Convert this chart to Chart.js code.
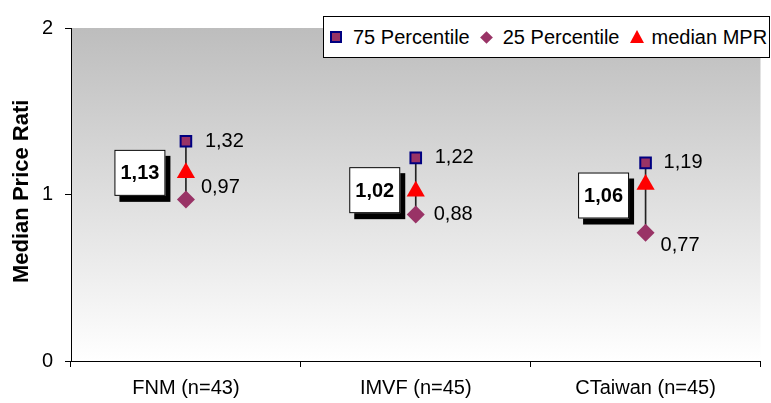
<!DOCTYPE html>
<html>
<head>
<meta charset="utf-8">
<script src="https://cdn.jsdelivr.net/npm/chart.js@4/dist/chart.umd.min.js"></script>
<style>
  body { margin: 0; background: #fff; }
  #wrap { position: relative; width: 771px; height: 403px; }
  #legend {
    position: absolute; left: 323px; top: 16px; width: 447px; height: 42px;
    box-sizing: border-box; border: 1px solid #000; background: #fff;
    display: flex; align-items: center; padding-left: 6px;
    font: 20px "Liberation Sans", Arial, sans-serif; color: #000; white-space: nowrap;
  }
  .mk { display: inline-block; flex: none; margin-right: 11px; }
  .sq { width: 8px; height: 8px; background: #993366; border: 2px solid #000080; }
  .dm { width: 9px; height: 9px; background: #993366; transform: rotate(45deg); margin-left: 2px; margin-right: 12px; }
  .tr { width: 0; height: 0; border-left: 7px solid transparent; border-right: 7px solid transparent; border-bottom: 13px solid #ff0000; margin-bottom: 2px; margin-right: 8px; }
  .txt { flex: none; margin-right: 10px; }
</style>
</head>
<body>
<div id="wrap">
  <canvas id="chart" width="771" height="403"></canvas>
  <div id="legend">
    <span class="mk sq"></span><span class="txt">75 Percentile</span>
    <span class="mk dm"></span><span class="txt">25 Percentile</span>
    <span class="mk tr"></span><span class="txt">median MPR</span>
  </div>
</div>
<script>
// Median price ratio per data source, with the 25/75 percentile range

const categories = ['FNM (n=43)', 'IMVF (n=45)', 'CTaiwan (n=45)'];
const p75 = [1.32, 1.22, 1.19];
const p25 = [0.97, 0.88, 0.77];
const medianMPR = [1.13, 1.02, 1.06];
const yTicks = [0, 1, 2];

// label nudges (pixels), as placed by hand in the original
const p75LabelDx = [19, 19, 18];
const p25LabelDx = [15, 18, 15];
const p25LabelDy = [-12, 0, 13];
const boxDx = [-46, -41, -42];
const boxDy = [0, -1, 11];

const FONT = '"Liberation Sans", Arial, sans-serif';

function fmt(v) {
    return v.toFixed(2).replace('.', ',');
}

// grey-to-white plot background
const backgroundPlugin = {
    id: 'plotBackground',
    beforeDraw(chart) {
        const a = chart.chartArea;
        const ctx = chart.ctx;
        const g = ctx.createLinearGradient(0, a.top, 0, a.bottom);
        g.addColorStop(0, '#bdbdbd');
        g.addColorStop(1, '#ffffff');
        ctx.save();
        ctx.fillStyle = g;
        ctx.fillRect(a.left, a.top, a.right - a.left, a.bottom - a.top);
        ctx.restore();
    }
};

// y title, cut off at the top like the original
const yTitlePlugin = {
    id: 'yTitle',
    afterDraw(chart) {
        const ctx = chart.ctx;
        ctx.save();
        ctx.beginPath();
        ctx.rect(0, 100, 60, 300);
        ctx.clip();
        ctx.translate(22, 283);
        ctx.rotate(-Math.PI / 2);
        ctx.font = 'bold 22px ' + FONT;
        ctx.fillStyle = '#000';
        ctx.textAlign = 'left';
        ctx.textBaseline = 'middle';
        ctx.fillText('Median Price Ratio', 0, 0);
        ctx.restore();
    }
};

// value labels and boxed median labels
const labelPlugin = {
    id: 'valueLabels',
    afterDatasetsDraw(chart) {
        const ctx = chart.ctx;
        const xs = chart.scales.x;
        const ys = chart.scales.y;
        ctx.save();
        ctx.fillStyle = '#000';
        ctx.textBaseline = 'middle';
        categories.forEach((c, i) => {
            const x = xs.getPixelForValue(i);
            ctx.fillStyle = '#000';
            ctx.font = '20px ' + FONT;
            ctx.textAlign = 'left';
            ctx.fillText(fmt(p75[i]), x + p75LabelDx[i], ys.getPixelForValue(p75[i]));
            ctx.fillText(fmt(p25[i]), x + p25LabelDx[i], ys.getPixelForValue(p25[i]) + p25LabelDy[i]);

            const cx = x + boxDx[i];
            const cy = ys.getPixelForValue(medianMPR[i]) + boxDy[i];
            const w = 51, h = 46;
            ctx.fillStyle = '#000';
            ctx.fillRect(cx - w / 2 + 5, cy - h / 2 + 6, w, h);
            ctx.fillStyle = '#fff';
            ctx.fillRect(cx - w / 2, cy - h / 2, w, h);
            ctx.strokeStyle = '#000';
            ctx.lineWidth = 1;
            ctx.strokeRect(cx - w / 2 + 0.5, cy - h / 2 + 0.5, w - 1, h - 1);
            ctx.fillStyle = '#000';
            ctx.font = 'bold 20px ' + FONT;
            ctx.textAlign = 'center';
            ctx.fillText(fmt(medianMPR[i]), cx, cy + 1);
        });
        ctx.restore();
    }
};

const ctx = document.getElementById('chart').getContext('2d');
new Chart(ctx, {
    type: 'bar',
    data: {
        labels: categories,
        datasets: [{
            label: 'range',
            data: p25.map((v, i) => [v, p75[i]]),
            backgroundColor: '#222222',
            borderWidth: 0,
            barThickness: 1,
            order: 10
        }, {
            type: 'line',
            label: '75 Percentile',
            data: p75,
            showLine: false,
            pointStyle: 'rect',
            pointRadius: 7.5,
            pointBackgroundColor: '#993366',
            pointBorderColor: '#000080',
            pointBorderWidth: 2,
            order: 1
        }, {
            type: 'line',
            label: '25 Percentile',
            data: p25,
            showLine: false,
            pointStyle: 'rectRot',
            pointRadius: 9,
            pointBackgroundColor: '#993366',
            pointBorderColor: '#993366',
            pointBorderWidth: 0,
            order: 2
        }, {
            type: 'line',
            label: 'median MPR',
            data: medianMPR,
            showLine: false,
            pointStyle: 'triangle',
            pointRadius: 10.5,
            pointBackgroundColor: '#ff0000',
            pointBorderColor: '#ff0000',
            pointBorderWidth: 0,
            order: 0
        }]
    },
    options: {
        responsive: false,
        animation: false,
        devicePixelRatio: 1,
        layout: { padding: { top: 28, right: 3, left: 0, bottom: 0 } },
        plugins: {
            legend: { display: false },
            tooltip: { enabled: false }
        },
        scales: {
            x: {
                afterFit: s => { s.height = 42; },
                border: { display: true, color: '#000', width: 1 },
                grid: { drawOnChartArea: false, color: '#000', tickLength: 6, offset: true },
                ticks: { color: '#000', font: { family: FONT, size: 20 }, padding: 9 }
            },
            y: {
                min: yTicks[0],
                max: yTicks[yTicks.length - 1],
                afterFit: s => { s.width = 71; },
                afterBuildTicks: s => { s.ticks = yTicks.map(v => ({ value: v })); },
                border: { display: true, color: '#000', width: 1 },
                grid: { drawOnChartArea: false, color: '#000', tickLength: 6 },
                ticks: { color: '#000', font: { family: FONT, size: 20 }, padding: 12 }
            }
        }
    },
    plugins: [backgroundPlugin, yTitlePlugin, labelPlugin]
});
</script>
</body>
</html>
